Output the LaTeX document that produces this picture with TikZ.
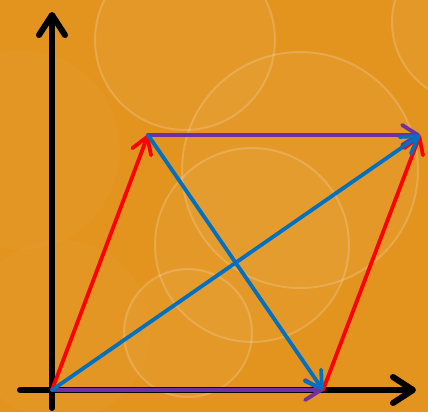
\documentclass[tikz,border=0pt]{standalone}
\usetikzlibrary{arrows.meta}
\definecolor{bgorange}{HTML}{E3941F}
\definecolor{vred}{HTML}{FF0000}
\definecolor{vblue}{HTML}{0070C0}
\definecolor{vpurple}{HTML}{7030A0}
\begin{document}
\begin{tikzpicture}[x=1pt,y=-1pt,
  bubble/.style={draw=white,draw opacity=0.18,line width=2pt,fill=white,fill opacity=0.04},
  axis/.style={line width=6pt,line cap=round,-{Straight Barb[length=20pt,width=26pt,line cap=round,line join=round]}},
  vec/.style={line width=3.8pt,line cap=round,-{Straight Barb[length=16pt,width=20pt,line cap=round,line join=round]}}]
\useasboundingbox (0,0) rectangle (428,412);
\fill[bgorange] (0,0) rectangle (428,412);
\fill[white,opacity=0.02] (20,150) circle (100);
\fill[white,opacity=0.02] (60,330) circle (90);
\path[bubble] (185,40) circle (90);
\path[bubble] (300,170) circle (118);
\path[bubble] (252,245) circle (97);
\path[bubble] (188,333) circle (64);
\path[bubble] (472,22) circle (80);
\coordinate (O) at (52,390);
\coordinate (A) at (148,135);
\coordinate (B) at (420,135);
\coordinate (C) at (323,390);
\coordinate (xs) at (20,390);
\coordinate (xe) at (416,390);
\coordinate (ys) at (52,408);
\coordinate (ye) at (52,12);
\draw[axis] (xs) -- (xe);
\draw[axis] (ys) -- (ye);
\draw[vec,vred] (O) -- (A);
\draw[vec,vred] (C) -- (B);
\draw[vec,vpurple] (A) -- (B);
\draw[vec,vpurple] (O) -- (C);
\draw[vec,vblue] (O) -- (B);
\draw[vec,vblue] (A) -- (C);
\end{tikzpicture}
\end{document}
